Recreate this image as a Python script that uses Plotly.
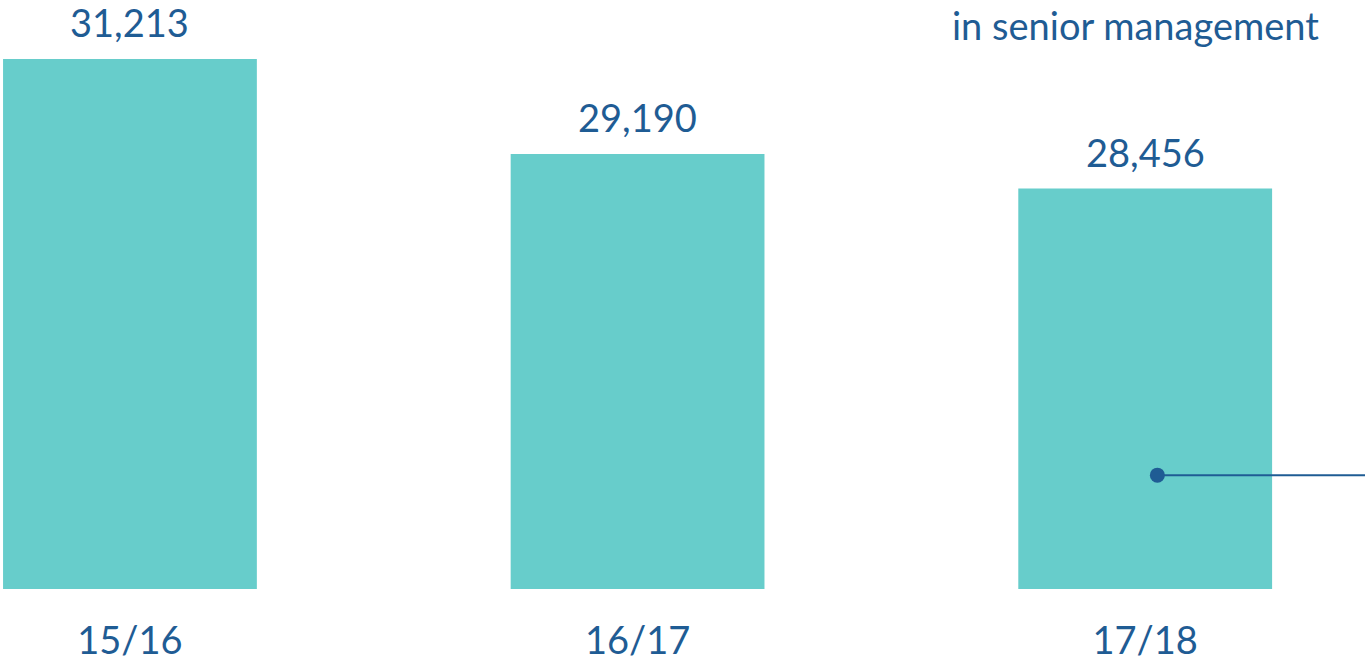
import plotly.graph_objects as go

# Datos
years = ['15/16', '16/17', '17/18']
staff = [31213, 29190, 28456]
value_labels = ['31,213', '29,190', '28,456']
note_text = 'in senior management'

bar_color = '#67CDCB'
text_color = '#1F5C94'
font_family = 'Lato, Open Sans, sans-serif'

x_pos = list(range(len(years)))

fig = go.Figure()

fig.add_trace(go.Bar(
    x=x_pos, y=staff,
    marker=dict(color=bar_color, line=dict(width=0)),
    width=0.5,
    hoverinfo='skip'
))

# Etiquetas de valor sobre cada barra
for xi, v, lab in zip(x_pos, staff, value_labels):
    fig.add_annotation(x=xi, y=v, text=lab, showarrow=False,
                       yanchor='bottom', yshift=12,
                       font=dict(size=38, color=text_color, family=font_family))

# Linea de llamada desde la ultima barra
callout_x = [2.024, 2.433]
callout_y = [22354, 22354]
fig.add_trace(go.Scatter(
    x=callout_x, y=callout_y, mode='lines',
    line=dict(color=text_color, width=2), hoverinfo='skip'
))
fig.add_trace(go.Scatter(
    x=callout_x[:1], y=callout_y[:1], mode='markers',
    marker=dict(color=text_color, size=15), hoverinfo='skip'
))

fig.add_annotation(xref='paper', yref='paper', x=0.968, y=1.0,
                   xanchor='right', yanchor='top', text=note_text,
                   showarrow=False,
                   font=dict(size=38, color=text_color, family=font_family))

fig.update_layout(
    width=1365, height=663,
    plot_bgcolor='white', paper_bgcolor='white',
    margin=dict(l=0, r=0, t=0, b=74),
    showlegend=False,
    bargap=0.5
)

fig.update_xaxes(
    range=[-0.256, 2.433],
    tickmode='array', tickvals=x_pos, ticktext=years,
    showgrid=False, zeroline=False, showline=False,
    ticks='', ticklabelstandoff=26,
    tickfont=dict(size=38, color=text_color, family=font_family)
)
fig.update_yaxes(
    range=[19930, 32470],
    showgrid=False, zeroline=False, showline=False,
    showticklabels=False
)

# quitar el margen del body para que la figura empiece en (0, 0)
fig.write_html('out.html', config={'displayModeBar': False},
               post_script="document.body.style.margin='0';")
